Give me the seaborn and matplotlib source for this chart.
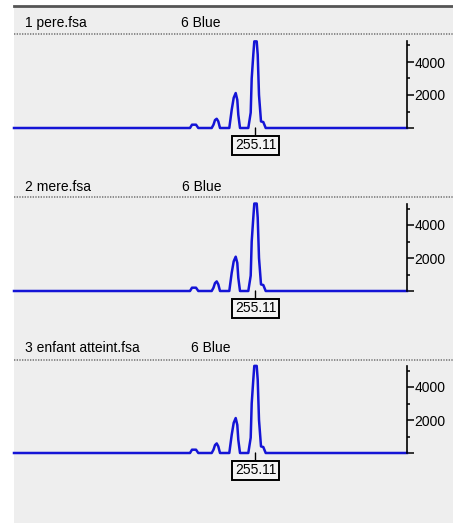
import matplotlib
matplotlib.use("Agg")
import matplotlib.pyplot as plt
from matplotlib.lines import Line2D
from matplotlib.patches import Rectangle
import seaborn as sns

# Trace data (size in bp, signal in RFU)
size_bp = [230.96, 248.56, 248.76, 249.16, 249.39, 250.73, 250.91, 251.06, 251.23,
           251.39, 251.56, 252.49, 252.73, 252.93, 253.13, 253.29, 253.39, 253.56,
           254.39, 254.63, 254.73, 254.89, 254.99, 255.23, 255.33, 255.46, 255.66,
           255.89, 256.13, 270.26]
pere_rfu = [0, 0, 200, 200, 0, 0, 200, 480, 560, 400, 0, 0, 1100, 1830, 2120,
            1700, 800, 0, 0, 930, 3000, 4450, 5250, 5250, 4450, 2000, 400, 360, 0, 0]
mere_rfu = [0, 0, 200, 200, 0, 0, 200, 480, 580, 400, 0, 0, 1100, 1800, 2080,
            1700, 800, 0, 0, 930, 3000, 4450, 5300, 5300, 4450, 2000, 400, 360, 0, 0]
enfant_rfu = [0, 0, 200, 200, 0, 0, 200, 480, 580, 400, 0, 0, 1100, 1830, 2120,
              1700, 800, 0, 0, 930, 3000, 4450, 5280, 5280, 4450, 2000, 400, 360, 0, 0]

sample_names = ["1 pere.fsa", "2 mere.fsa", "3 enfant atteint.fsa"]
dye_label = "6 Blue"
peak_size = 255.11
samples = [pere_rfu, mere_rfu, enfant_rfu]

plt.rcParams["font.family"] = ["Liberation Sans", "DejaVu Sans"]

W, H = 453, 526
fig = plt.figure(figsize=(W / 100, H / 100), dpi=100)
fig.patch.set_facecolor("white")

# grey window background and top bar
fig.add_artist(Rectangle((14 / W, 1 - 523 / H), (W - 14) / W, 516 / H,
                         transform=fig.transFigure, facecolor="#eeeeee",
                         edgecolor="none", zorder=0))
fig.add_artist(Line2D([14 / W, 1], [1 - 6 / H, 1 - 6 / H], transform=fig.transFigure,
                      color="#555555", lw=2.0))

baselines = [128, 291, 453]
dotted_y = [34, 197, 360]
title_y = [23, 187, 348]
dye_x = [181, 182, 191]
px_per_rfu = 0.0165
ymax = 5600

for i, rfu in enumerate(samples):
    b = baselines[i]
    h = ymax * px_per_rfu
    ax = fig.add_axes([14 / W, (H - b) / H, (407 - 14) / W, h / H])
    ax.set_facecolor("none")
    sns.lineplot(x=size_bp, y=rfu, ax=ax, color="#1414d6", linewidth=1.8)
    for ln in ax.lines:
        ln.set_clip_on(False)
    ax.set_xlim(size_bp[0], size_bp[-1])
    ax.set_ylim(0, ymax)
    for s in ["left", "top", "bottom"]:
        ax.spines[s].set_visible(False)
    ax.spines["right"].set_bounds(0, 5250)
    ax.spines["right"].set_linewidth(1.2)
    ax.yaxis.tick_right()
    ax.set_xticks([])
    ax.set_yticks([0, 2000, 4000])
    ax.set_yticklabels(["", "2000", "4000"])
    ax.set_yticks([1000, 3000, 5000], minor=True)
    ax.tick_params(axis="y", which="major", length=5, width=1.1, pad=0.5,
                   labelsize=10, colors="black")
    ax.tick_params(axis="y", which="minor", length=2.5, width=1.1)
    ax.set_xlabel("")
    ax.set_ylabel("")

    ax.annotate(f"{peak_size:.2f}", xy=(peak_size, 0), xytext=(0, -12.5),
                textcoords="offset points", ha="center", va="center",
                fontsize=10, annotation_clip=False,
                bbox=dict(boxstyle="square,pad=0.2", facecolor="#f4f4f4",
                          edgecolor="black", linewidth=1.4),
                arrowprops=dict(arrowstyle="-", color="black", lw=1.0,
                                shrinkA=0, shrinkB=0))

    fig.text(25 / W, 1 - title_y[i] / H, sample_names[i], fontsize=10,
             va="center", ha="left")
    fig.text(dye_x[i] / W, 1 - title_y[i] / H, dye_label, fontsize=10,
             va="center", ha="left")
    fig.add_artist(Line2D([14 / W, 1], [1 - dotted_y[i] / H] * 2,
                          transform=fig.transFigure, color="#7a7a7a",
                          lw=1.2, linestyle=(0, (0.8, 0.8))))

plt.savefig("out.png", dpi=100)
